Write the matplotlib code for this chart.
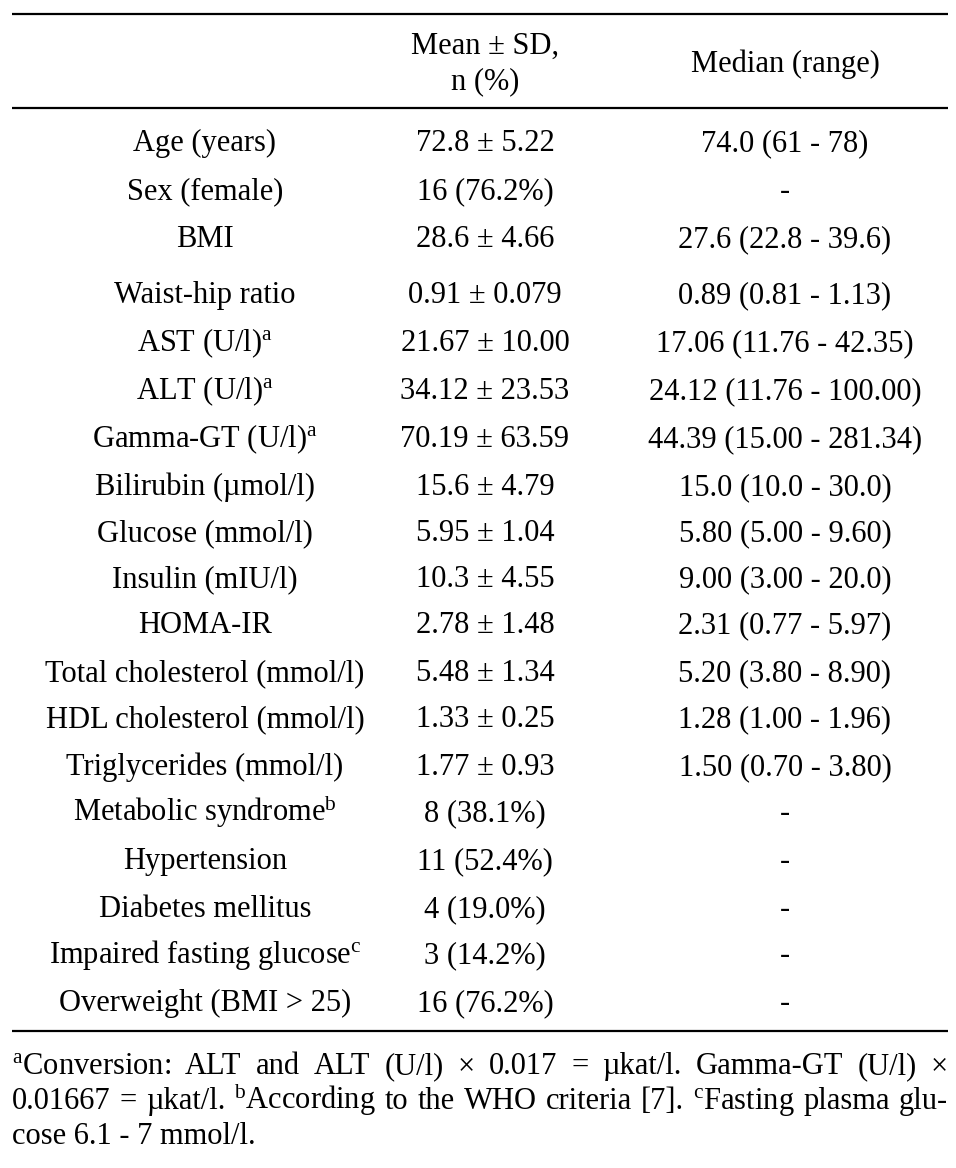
import matplotlib
matplotlib.use("Agg")
import matplotlib.pyplot as plt

plt.rcParams['font.family'] = ['Liberation Serif', 'DejaVu Serif']
plt.rcParams['mathtext.fontset'] = 'custom'
plt.rcParams['mathtext.rm'] = 'Liberation Serif'
plt.rcParams['mathtext.it'] = 'Liberation Serif:italic'

# table content
header_mean = ["Mean ± SD,", "n (%)"]
header_median = "Median (range)"
variables = ["Age (years)", "Sex (female)", "BMI", "Waist-hip ratio",
             "AST (U/l)$^{\\mathrm{a}}$", "ALT (U/l)$^{\\mathrm{a}}$",
             "Gamma-GT (U/l)$^{\\mathrm{a}}$", "Bilirubin (µmol/l)",
             "Glucose (mmol/l)", "Insulin (mIU/l)", "HOMA-IR",
             "Total cholesterol (mmol/l)", "HDL cholesterol (mmol/l)",
             "Triglycerides (mmol/l)", "Metabolic syndrome$^{\\mathrm{b}}$",
             "Hypertension", "Diabetes mellitus",
             "Impaired fasting glucose$^{\\mathrm{c}}$", "Overweight (BMI > 25)"]
mean_sd = ["72.8 ± 5.22", "16 (76.2%)", "28.6 ± 4.66", "0.91 ± 0.079",
           "21.67 ± 10.00", "34.12 ± 23.53", "70.19 ± 63.59", "15.6 ± 4.79",
           "5.95 ± 1.04", "10.3 ± 4.55", "2.78 ± 1.48", "5.48 ± 1.34",
           "1.33 ± 0.25", "1.77 ± 0.93", "8 (38.1%)", "11 (52.4%)",
           "4 (19.0%)", "3 (14.2%)", "16 (76.2%)"]
median_range = ["74.0 (61 - 78)", "-", "27.6 (22.8 - 39.6)", "0.89 (0.81 - 1.13)",
                "17.06 (11.76 - 42.35)", "24.12 (11.76 - 100.00)",
                "44.39 (15.00 - 281.34)", "15.0 (10.0 - 30.0)",
                "5.80 (5.00 - 9.60)", "9.00 (3.00 - 20.0)", "2.31 (0.77 - 5.97)",
                "5.20 (3.80 - 8.90)", "1.28 (1.00 - 1.96)", "1.50 (0.70 - 3.80)",
                "-", "-", "-", "-", "-"]
row_y = [142, 190, 238, 294, 342, 390, 438, 486, 532, 578, 624, 672, 718,
         766, 812, 860, 908, 954, 1002]
footnote_lines = [
    ["$^{\\mathrm{a}}$Conversion:", "ALT", "and", "ALT", "(U/l)", "×", "0.017", "=",
     "µkat/l.", "Gamma-GT", "(U/l)", "×"],
    ["0.01667", "=", "µkat/l.", "$^{\\mathrm{b}}$According", "to", "the", "WHO",
     "criteria", "[7].", "$^{\\mathrm{c}}$Fasting", "plasma", "glu-"],
    ["cose 6.1 - 7 mmol/l."],
]

W, H = 956, 1168
fig = plt.figure(figsize=(W / 100, H / 100), dpi=100)
ax = fig.add_axes([0, 0, 1, 1])
ax.set_xlim(0, W)
ax.set_ylim(H, 0)
ax.axis('off')

fs = 22
col_x = [205, 485, 785]
base_off = 9

for yy in [14, 108, 1031]:
    ax.plot([12, 948], [yy, yy], color='black', lw=1.6, solid_capstyle='butt')

ax.text(col_x[1], 45 + base_off, header_mean[0], ha='center', va='baseline', fontsize=fs)
ax.text(col_x[1], 80 + base_off, header_mean[1], ha='center', va='baseline', fontsize=fs)
ax.text(col_x[2], 63 + base_off, header_median, ha='center', va='baseline', fontsize=fs)

for v, m, r, y in zip(variables, mean_sd, median_range, row_y):
    ax.text(col_x[0], y + base_off, v, ha='center', va='baseline', fontsize=fs)
    ax.text(col_x[1], y + base_off, m, ha='center', va='baseline', fontsize=fs)
    ax.text(col_x[2], y + base_off, r, ha='center', va='baseline', fontsize=fs)

# justified footnote
fig.canvas.draw()
renderer = fig.canvas.get_renderer()
left, right = 12, 948
foot_y = [1074, 1109, 1144]
for words, y in zip(footnote_lines, foot_y):
    if len(words) == 1:
        ax.text(left, y, words[0], ha='left', va='baseline', fontsize=fs)
        continue
    items = [ax.text(0, y, w, ha='left', va='baseline', fontsize=fs) for w in words]
    widths = [t.get_window_extent(renderer).width for t in items]
    gap = (right - left - sum(widths)) / (len(words) - 1)
    x = left
    for t, w in zip(items, widths):
        t.set_x(x)
        x += w + gap

fig.savefig("out.png", dpi=100)
